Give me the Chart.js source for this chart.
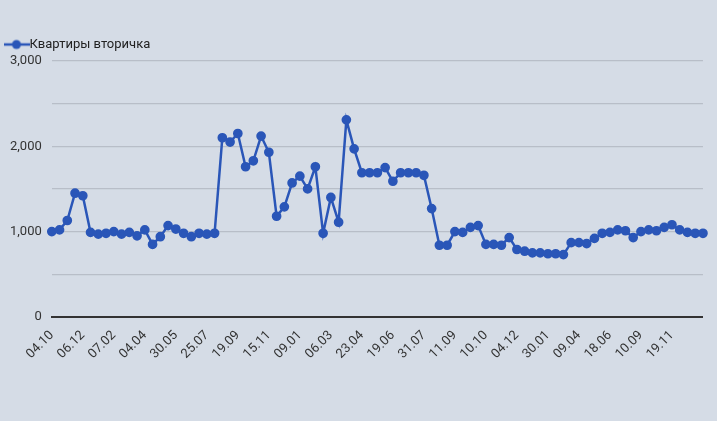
<!DOCTYPE html><html><head><meta charset="utf-8">
<script src="https://cdn.jsdelivr.net/npm/chart.js@4"></script>
<style>html,body{margin:0;padding:0;background:#d5dce6;}#w{width:717px;height:421px;}</style></head><body><div id="w"><canvas id="c"></canvas></div>
<script>
const seriesName = "Квартиры вторичка";
const values = [1000,1020,1130,1450,1420,990,970,980,1000,970,990,950,1020,850,940,1070,1030,980,940,980,970,980,2100,2050,2150,1760,1830,2120,1930,1180,1290,1570,1650,1500,1760,980,1400,1110,2310,1970,1690,1690,1690,1750,1590,1690,1690,1690,1660,1270,840,840,1000,990,1050,1070,850,850,840,930,790,770,750,750,740,740,730,870,870,860,920,980,990,1020,1010,930,1000,1020,1010,1050,1080,1020,990,980,980];
const tickLabels = ["04.10","06.12","07.02","04.04","30.05","25.07","19.09","15.11","09.01","06.03","23.04","19.06","31.07","11.09","10.10","04.12","30.01","09.04","18.06","10.09","19.11"];
const categories = values.map((v,i)=> i%4===0 ? (tickLabels[i/4]||"") : "");
const icon = document.createElement('canvas'); icon.width=26; icon.height=12;
(function(){const g=icon.getContext('2d');g.strokeStyle='#2a56b8';g.lineWidth=2.5;g.beginPath();g.moveTo(0,6);g.lineTo(26,6);g.stroke();g.fillStyle='#2a56b8';g.beginPath();g.arc(13,6,4.5,0,Math.PI*2);g.fill();})();
new Chart(document.getElementById('c'),{type:'line',
data:{labels:categories,datasets:[{label:seriesName,data:values,borderColor:'#2a56b8',backgroundColor:'#2a56b8',borderWidth:2.5,pointRadius:3.6,pointHoverRadius:3.6,tension:0,pointStyle:'circle'}]},
options:{responsive:true,maintainAspectRatio:false,animation:false,
layout:{padding:{left:0,right:6,top:28,bottom:56}},
plugins:{legend:{position:'top',align:'start',labels:{usePointStyle:true,generateLabels:ch=>[{text:seriesName,pointStyle:icon,fontColor:'#222',lineWidth:0,datasetIndex:0}],color:'#222',font:{family:'Roboto',size:13}}},tooltip:{enabled:false}},
scales:{x:{offset:false,grid:{display:false},border:{color:'#333',width:2},ticks:{autoSkip:false,maxRotation:45,minRotation:45,color:'#333',font:{family:'Roboto',size:13},callback:function(v,i){return categories[i];}}},
y:{min:0,max:3000,ticks:{stepSize:500,color:'#333',font:{family:'Roboto',size:13},padding:10,callback:v=>v%1000===0?v.toLocaleString('en-US'):''},grid:{color:c=>c.tick.value===0?'#333':'#b8bec8',lineWidth:c=>c.tick.value===0?2:1.3,drawTicks:false},border:{display:false}}}}});
</script></body></html>
